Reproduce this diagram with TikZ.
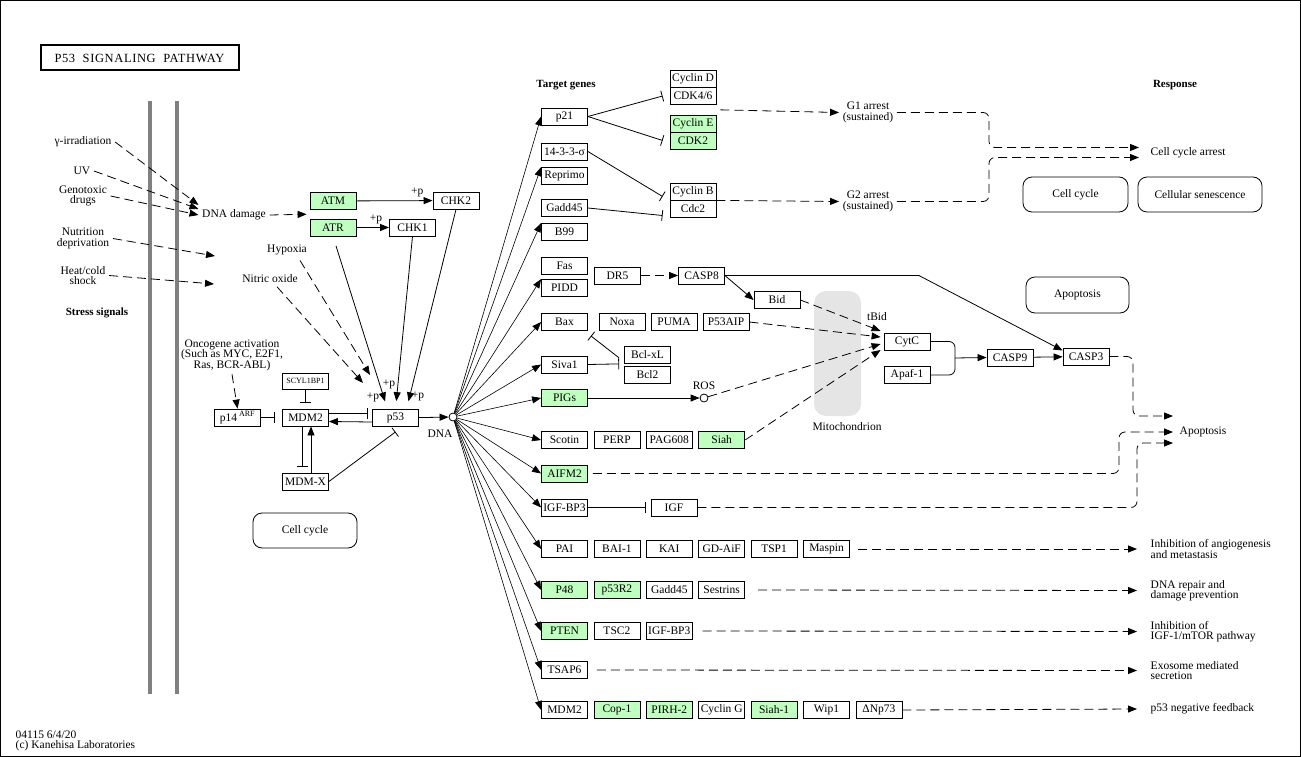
\documentclass[tikz,border=0pt]{standalone}
\usepackage{fontspec}
\setmainfont{Liberation Serif}
\usetikzlibrary{arrows.meta,calc}
\definecolor{keggg}{RGB}{191,255,191}
\definecolor{barg}{RGB}{128,128,128}
\definecolor{mitog}{RGB}{229,229,229}
\begin{document}
\begin{tikzpicture}[x=1pt,y=-1pt,>={Triangle[length=9pt,width=7pt]},line width=0.8pt,
	font=\fontsize{11.5}{10.5}\selectfont,
	gene/.style={draw,fill=white,minimum width=46pt,minimum height=17pt,inner sep=0pt},
	hit/.style={gene,fill=keggg},
	pw/.style={draw,rounded corners=9pt,minimum height=35pt},
	dsh/.style={dash pattern=on 9pt off 5pt},
	inh/.style={-{Bar[width=11pt]}},
	hd/.style={font=\fontsize{11}{10}\selectfont\bfseries}]
	\useasboundingbox (0,0) rectangle (1301,757);
	\draw (0.5,0.5) rectangle (1300.5,756.5);
	\fill[barg] (148,101) rectangle (152,694);
	\fill[barg] (175,101) rectangle (179,694);
	\fill[mitog,rounded corners=12pt] (814,291) rectangle (861,416);
	\node[draw,line width=2pt,minimum width=198pt,minimum height=25pt,font=\fontsize{12.5}{12}\selectfont\addfontfeature{LetterSpace=5}] (title) at (139.5,58) {P53\ \ SIGNALING\ \ PATHWAY};
	\node[align=center] (gamma) at (83,142) {γ-irradiation};
	\node (uv) at (82,171) {UV};
	\node[align=center] (geno) at (83,196) {Genotoxic\\drugs};
	\node[align=center] (nutr) at (83,238.5) {Nutrition\\deprivation};
	\node[align=center] (heat) at (83,275.5) {Heat/cold\\shock};
	\node[hd] (stress) at (97,313) {Stress signals};
	\node (dnadmg) at (234,215) {DNA damage};
	\node (hypoxia) at (287,250) {Hypoxia};
	\node (nitric) at (270,279) {Nitric oxide};
	\node[align=center] (onco) at (232,355) {Oncogene activation\\(Such as MYC, E2F1,\\Ras, BCR-ABL)};
	\coordinate (nutend) at (215,256);
	\coordinate (heatend) at (214,284);
	\coordinate (hypend) at (370,375);
	\coordinate (noend) at (363,383);
	\node[hit] (atm) at (333,201) {ATM};
	\node[hit] (atr) at (333,227.5) {ATR};
	\node[gene] (chk2) at (456,200.5) {CHK2};
	\node[gene] (chk1) at (412.5,227.5) {CHK1};
	\node[gene] (p53) at (395.5,418) {p53};
	\node[gene] (mdm2) at (305.5,417.5) {MDM2};
	\node[gene,minimum height=16pt,font=\fontsize{8}{8}\selectfont] (scyl) at (305.5,381) {SCYL1BP1};
	\node[gene] (p14) at (237.5,417.5) {p14\,\textsuperscript{ARF}};
	\node[gene] (mdmx) at (305.5,481.5) {MDM-X};
	\node[circle,draw,fill=white,inner sep=0pt,minimum size=8pt] (dna) at (453,417) {};
	\node at (440,434) {DNA};
	\node[pw,minimum width=104pt] (cc1) at (305,530.5) {Cell cycle};
	\draw[->,dsh] (gamma.east) -- ([yshift=10pt]dnadmg.west);
	\draw[->,dsh] (uv.east) -- ([yshift=6pt]dnadmg.west);
	\draw[->,dsh] (geno.east) -- (dnadmg.west);
	\draw[->,dsh] (nutr.east) -- (nutend);
	\draw[->,dsh] (heat.east) -- (heatend);
	\draw[->,dsh] (dnadmg.east) -- ($(atm.south west)!.5!(atr.north west)+(-3,0)$);
	\draw[->] (atm) -- node[pos=.8,above]{+p} (chk2);
	\draw[->] (atr) -- node[pos=.6,above]{+p} (chk1);
	\draw[->,dsh] (onco.south) -- (p14.north);
	\draw[->,dsh,shorten <=2pt] ([xshift=12pt]hypoxia.south) -- (hypend);
	\draw[->,dsh] ([xshift=7pt]nitric.south) -- (noend);
	\draw[->,shorten <=10pt,shorten >=8pt] (atr.south) -- ([xshift=-8pt]p53.north);
	\draw[->,shorten >=8pt] (chk1.south) -- (p53.north);
	\draw[->,shorten >=8pt] (chk2.south) -- ([xshift=11pt]p53.north);
	\node at (373,397) {+p};
	\node at (389,384) {+p};
	\node at (418,396) {+p};
	\draw[inh] ([yshift=4pt]mdm2.east) -- +(39,0);
	\draw[->] ([yshift=-4pt]p53.west) -- ([yshift=-4pt]mdm2.east);
	\draw[inh] (scyl.south) -- ([yshift=6pt]mdm2.north);
	\draw[inh] (p14.east) -- ([xshift=-7pt]mdm2.west);
	\draw[inh] ([xshift=-3.5pt]mdm2.south) -- ([xshift=-3.5pt,yshift=6pt]mdmx.north);
	\draw[->] ([xshift=5.5pt]mdmx.north) -- ([xshift=5.5pt]mdm2.south);
	\draw[inh] (mdmx.east) -- ([yshift=-5pt]p53.south);
	\draw[->] (p53) -- (dna);
	\node[hd] (tg) at (566,85) {Target genes};
	\node[gene] (p21) at (564.5,116.5) {p21};
	\node[gene] (p1433) at (564.5,151.5) {14-3-3-σ};
	\node[gene] (reprimo) at (564.5,176) {Reprimo};
	\node[gene] (gadd) at (564.5,208) {Gadd45};
	\node[gene] (b99) at (564.5,232) {B99};
	\node[gene] (fas) at (564.5,266) {Fas};
	\node[gene] (pidd) at (564.5,288) {PIDD};
	\node[gene] (siva) at (564.5,364.5) {Siva1};
	\node[hit] (pigs) at (564.5,398) {PIGs};
	\node[hit] (aifm) at (564.5,473.5) {AIFM2};
	\node[gene] (igfbp) at (564.5,507.5) {IGF-BP3};
	\node[gene] (igf) at (674,507.5) {IGF};
	\node[gene] (tsap) at (564.5,670) {TSAP6};
	\foreach \lbl/\nm/\x in {Bax/bax/564.5,Noxa/noxa/622,PUMA/puma/674,P53AIP/aip/726}
		\node[gene] (\nm) at (\x,322) {\lbl};
	\foreach \lbl/\nm/\st [count=\i from 0] in {Scotin/scotin/gene,PERP/perp/gene,PAG608/pag/gene,Siah/siah/hit}
		\node[\st] (\nm) at (564.5+52.4*\i,440) {\lbl};
	\foreach \lbl/\nm [count=\i from 0] in {PAI/pai,BAI-1/bai,KAI/kai,GD-AiF/gdaif,TSP1/tsp,Maspin/maspin}
		\node[gene] (\nm) at (564.5+52.4*\i,549) {\lbl};
	\foreach \lbl/\nm/\st [count=\i from 0] in {P48/ppp/hit,p53R2/rr/hit,Gadd45/gaddb/gene,Sestrins/sestrins/gene}
		\node[\st] (\nm) at (564.5+52.4*\i,590) {\lbl};
	\foreach \lbl/\nm/\st [count=\i from 0] in {PTEN/pten/hit,TSC2/tsc/gene,IGF-BP3/igfbpb/gene}
		\node[\st] (\nm) at (564.5+52.4*\i,631) {\lbl};
	\foreach \lbl/\nm/\st [count=\i from 0] in {MDM2/mdmb/gene,Cop-1/cop/hit,PIRH-2/pirh/hit,Cyclin G/cycg/gene,Siah-1/siahb/hit,Wip1/wip/gene,ΔNp73/dnp/gene}
		\node[\st] (\nm) at (564.5+52.4*\i,710) {\lbl};
	\foreach \tg in {p21.west,reprimo.north west,b99.north west,pidd.north west,bax.west,siva.west,pigs.west,scotin.west,aifm.west,igfbp.west,pai.west,ppp.west,pten.west,tsap.west,mdmb.west}
		\draw[->,line width=0.6pt] (dna) -- (\tg);
	\node[gene] (cycd) at (693,79) {Cyclin D};
	\node[gene] (cdk46) at (693,96) {CDK4/6};
	\node[hit] (cyce) at (693,123.5) {Cyclin E};
	\node[hit] (cdk2) at (693,140.5) {CDK2};
	\node[gene] (cycb) at (693,191.5) {Cyclin B};
	\node[gene] (cdc2) at (693,208.5) {Cdc2};
	\draw[inh] (p21.east) -- ([xshift=-7pt]cdk46.west);
	\draw[inh] (p21.east) -- ([xshift=-7pt]cdk2.west);
	\draw[inh] (p1433.east) -- ([xshift=-7pt,yshift=-5pt]cycb.west);
	\draw[inh] (gadd.east) -- ([xshift=-7pt,yshift=-7pt]cdc2.west);
	\node[align=center] (g1) at (868,112.5) {G1 arrest\\(sustained)};
	\node[align=center] (g2) at (868,201.5) {G2 arrest\\(sustained)};
	\node[anchor=west] (arrest) at (1147,153) {Cell cycle arrest};
	\draw[->,dsh,shorten <=4pt] ($(cdk46.south east)!.5!(cyce.north east)$) -- (g1.west);
	\draw[->,dsh] (cycb.south east) -- (g2.west);
	\draw[->,dsh,rounded corners=6pt] (g1.east) -| ([xshift=-158pt,yshift=5.5pt]arrest.west) -- ([xshift=-8pt,yshift=5.5pt]arrest.west);
	\draw[->,dsh,rounded corners=6pt] (g2.east) -| ([xshift=-158pt,yshift=-4.5pt]arrest.west) -- ([xshift=-8pt,yshift=-4.5pt]arrest.west);
	\node[hd] (resp) at (1175,85) {Response};
	\node[pw,minimum width=105pt] (cc2) at (1075.5,194.5) {Cell cycle};
	\node[pw,minimum width=124pt] (sen) at (1200,194.5) {Cellular senescence};
	\node[pw,minimum width=103pt,minimum height=36pt] (apobox) at (1077.5,295) {Apoptosis};
	\node[gene] (bclxl) at (647.5,355) {Bcl-xL};
	\node[gene] (bcl2) at (647.5,375) {Bcl2};
	\node[gene] (dr5) at (617.5,275.5) {DR5};
	\node[gene] (casp8) at (701.5,275.5) {CASP8};
	\node[gene] (bid) at (777,300) {Bid};
	\node[gene] (cytc) at (907,341.5) {CytC};
	\node[gene] (apaf) at (907,375) {Apaf-1};
	\node[gene] (casp9) at (1010,357.5) {CASP9};
	\node[gene] (casp3) at (1086,356.5) {CASP3};
	\node[circle,draw,fill=white,inner sep=0pt,minimum size=8pt] (ros) at (704,398) {};
	\node[above] at (ros.north) {ROS};
	\node (tbid) at (877,317) {tBid};
	\node (mito) at (847,427) {Mitochondrion};
	\node[anchor=west] (apopt) at (1176,432) {Apoptosis};
	\coordinate (jn) at (955,358);
	\draw[inh] (siva.east) -- ([xshift=-5pt]bclxl.south west);
	\draw[inh] ([xshift=-5pt,yshift=6pt]bclxl.south west) -- ([xshift=3pt,yshift=-5pt]bax.south east);
	\draw[->] (pigs) -- (ros);
	\draw[->,dsh] (dr5) -- (casp8);
	\draw[->] (casp8.east) -- (bid.west);
	\draw[->] (casp8.east) -- ([xshift=194pt]casp8.east) -- ([yshift=6pt]casp3.west);
	\draw[->,dsh] (bid.east) -- ([xshift=-3pt,yshift=10.5pt]cytc.west);
	\draw[->,dsh] (aip.east) -- ([xshift=-3pt,yshift=4.5pt]cytc.west);
	\draw[->,dsh] (ros) -- ([xshift=-3pt,yshift=-2.5pt]cytc.west);
	\draw[->,dsh] (siah.east) -- ([xshift=-3pt,yshift=-8.5pt]cytc.west);
	\draw[rounded corners=6pt] (cytc.east) -| (jn) |- (apaf.east);
	\draw[->] (jn) -- (casp9.west);
	\draw[->] (casp9) -- (casp3);
	\draw[inh] (igfbp.east) -- ([xshift=-5pt]igf.west);
	\draw[->,dsh,rounded corners=6pt] (casp3.east) -| ([xshift=-43pt,yshift=16pt]apopt.west) -- ([xshift=-3pt,yshift=16pt]apopt.west);
	\draw[->,dsh,rounded corners=6pt] ([xshift=5pt]aifm.east) -| ([xshift=-57pt]apopt.west) -- ([xshift=-3pt]apopt.west);
	\draw[->,dsh,rounded corners=6pt] (igf.east) -| ([xshift=-39pt,yshift=-11pt]apopt.west) -- ([xshift=-3pt,yshift=-11pt]apopt.west);
	\node[anchor=west,align=left] (angio) at (1147,549) {Inhibition of angiogenesis\\and metastasis};
	\node[anchor=west,align=left] (repair) at (1147,590.5) {DNA repair and\\damage prevention};
	\node[anchor=west,align=left] (igfpath) at (1147,631.5) {Inhibition of\\IGF-1/mTOR pathway};
	\node[anchor=west,align=left] (exo) at (1147,670.5) {Exosome mediated\\secretion};
	\node[anchor=west] (feedback) at (1147,709) {p53 negative feedback};
	\draw[->,dsh] ([xshift=8pt]maspin.east) -- ([xshift=-10pt]angio.west);
	\draw[->,dsh] ([xshift=13pt]sestrins.east) -- ([xshift=-10pt]repair.west);
	\draw[->,dsh] ([xshift=10pt]igfbpb.east) -- ([xshift=-10pt]igfpath.west);
	\draw[->,dsh] ([xshift=9pt]tsap.east) -- ([xshift=-10pt]exo.west);
	\draw[->,dsh] (dnp.east) -- ([xshift=-10pt]feedback.west);
	\node[align=left,anchor=west] (foot) at (12,741) {04115 6/4/20\\(c) Kanehisa Laboratories};
\end{tikzpicture}
\end{document}
